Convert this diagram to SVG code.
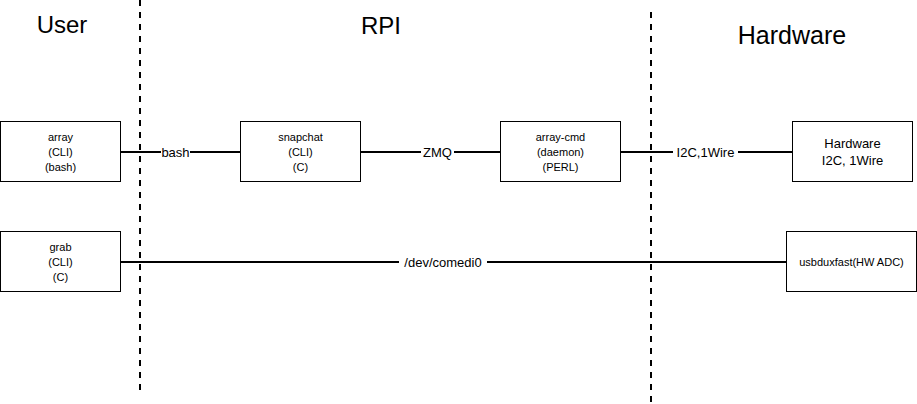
<svg xmlns="http://www.w3.org/2000/svg" width="917" height="404" viewBox="0 0 917 404">
<style>
.box{fill:#fff;stroke:#000;stroke-width:1}
.t{font-family:"Liberation Sans",Arial,sans-serif;font-size:11px;text-anchor:middle;fill:#000}
.t13{font-family:"Liberation Sans",Arial,sans-serif;font-size:13px;text-anchor:middle;fill:#000}
.lbl{font-family:"Liberation Sans",Arial,sans-serif;font-size:13px;text-anchor:middle;fill:#000}
.title{font-family:"Liberation Sans",Arial,sans-serif;font-size:24px;text-anchor:middle;fill:#000}
.edge{stroke:#000;stroke-width:2;fill:none}
.lane{stroke:#000;stroke-width:2;stroke-dasharray:6 6;fill:none}
.lb{fill:#fff}
</style>
<rect width="917" height="404" fill="#fff"/>
<g id="lanes">
<line class="lane" x1="140" y1="0" x2="140" y2="392"/>
<line class="lane" x1="651" y1="12" x2="651" y2="402"/>
<text class="title" x="62" y="33">User</text>
<text class="title" x="381" y="34">RPI</text>
<text class="title" x="792" y="44" style="font-size:25px">Hardware</text>
</g>
<g id="connectors">
<line class="edge" x1="120" y1="152" x2="240" y2="152"/>
<line class="edge" x1="360" y1="152" x2="500" y2="152"/>
<line class="edge" x1="620" y1="152" x2="792" y2="152"/>
<line class="edge" x1="120" y1="262" x2="786" y2="262"/>
<rect class="lb" x="161" y="145" width="29" height="14"/>
<text class="lbl" x="175.5" y="157">bash</text>
<rect class="lb" x="421" y="145" width="33" height="14"/>
<text class="lbl" x="437.5" y="157">ZMQ</text>
<rect class="lb" x="673" y="145" width="65" height="14"/>
<text class="lbl" x="705.5" y="157">I2C,1Wire</text>
<rect class="lb" x="399" y="255" width="88" height="14"/>
<text class="lbl" x="443" y="267">/dev/comedi0</text>
</g>
<g id="array">
<rect class="box" x="0.5" y="121.5" width="120" height="60"/>
<text class="t" x="60.5" y="141">array</text>
<text class="t" x="60.5" y="156">(CLI)</text>
<text class="t" x="60.5" y="171">(bash)</text>
</g>
<g id="snapchat">
<rect class="box" x="240.5" y="121.5" width="120" height="60"/>
<text class="t" x="300.5" y="141">snapchat</text>
<text class="t" x="300.5" y="156">(CLI)</text>
<text class="t" x="300.5" y="171">(C)</text>
</g>
<g id="array-cmd">
<rect class="box" x="500.5" y="121.5" width="120" height="60"/>
<text class="t" x="560.5" y="141">array-cmd</text>
<text class="t" x="560.5" y="156">(daemon)</text>
<text class="t" x="560.5" y="171">(PERL)</text>
</g>
<g id="hardware">
<rect class="box" x="792.5" y="121.5" width="120" height="60"/>
<text class="t13" x="852.5" y="148">Hardware</text>
<text class="t13" x="852.5" y="165">I2C, 1Wire</text>
</g>
<g id="grab">
<rect class="box" x="0.5" y="231.5" width="120" height="60"/>
<text class="t" x="60.5" y="251">grab</text>
<text class="t" x="60.5" y="266">(CLI)</text>
<text class="t" x="60.5" y="281">(C)</text>
</g>
<g id="usbduxfast">
<rect class="box" x="786.5" y="231.5" width="130" height="60"/>
<text class="t" x="851.5" y="266">usbduxfast(HW ADC)</text>
</g>
</svg>
